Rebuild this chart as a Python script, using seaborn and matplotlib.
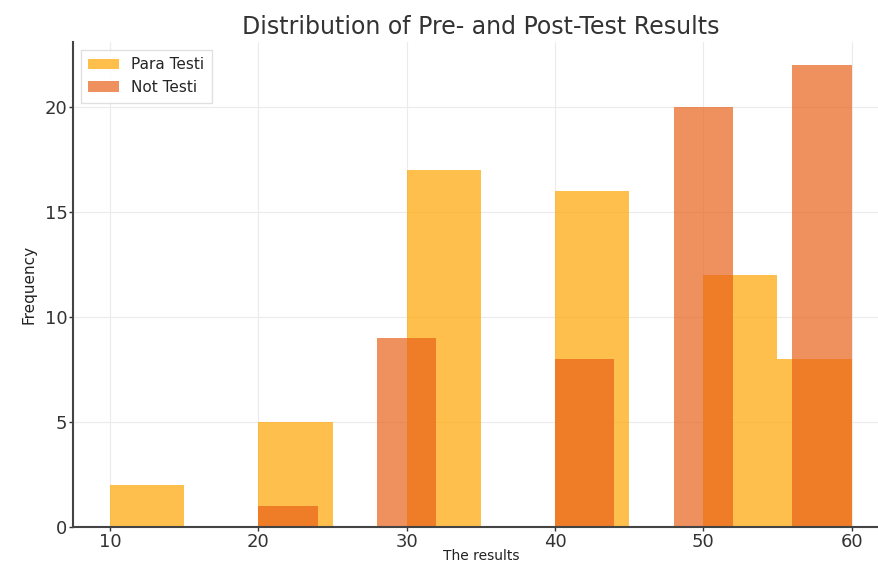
import numpy as np
import matplotlib
matplotlib.use('Agg')
import matplotlib.pyplot as plt
import seaborn as sns

# bins and counts
para_edges = [10, 15, 20, 25, 30, 35, 40, 45, 50, 55, 60]
para_counts = [2, 0, 5, 0, 17, 0, 16, 0, 12, 8]

not_edges = [20, 24, 28, 32, 36, 40, 44, 48, 52, 56, 60]
not_counts = [1, 0, 9, 0, 0, 8, 0, 20, 0, 22]

x_ticks = [10, 20, 30, 40, 50, 60]
y_ticks = [0, 5, 10, 15, 20]

PARA_COLOR = '#FFA500'
NOT_COLOR = '#E9621A'

sns.set_style('whitegrid', {'grid.color': '#ebebeb', 'axes.edgecolor': '#333333'})
plt.rcParams['font.family'] = ['DejaVu Sans']

fig = plt.figure(figsize=(8.79, 5.65), dpi=100)
ax = fig.add_axes([0.083, 0.0673, 0.928, 0.858])

para_mid = [(a + b) / 2 for a, b in zip(para_edges[:-1], para_edges[1:])]
not_mid = [(a + b) / 2 for a, b in zip(not_edges[:-1], not_edges[1:])]

sns.histplot(x=para_mid, weights=para_counts, bins=para_edges, ax=ax,
             color=PARA_COLOR, alpha=0.7, linewidth=0, label='Para Testi')
sns.histplot(x=not_mid, weights=not_counts, bins=not_edges, ax=ax,
             color=NOT_COLOR, alpha=0.7, linewidth=0, label='Not Testi')

ax.set_xlim(7.5, 62.5)
ax.set_ylim(0, 23.1)
ax.set_xticks(x_ticks)
ax.set_yticks(y_ticks)
ax.tick_params(axis='both', labelsize=13, colors='#333333', length=3, width=1,
               left=True, bottom=True, pad=1)
for side in ['top', 'right']:
    ax.spines[side].set_visible(False)
for side in ['left', 'bottom']:
    ax.spines[side].set_linewidth(1.5)
    ax.spines[side].set_color('#444444')

ax.set_title('Distribution of Pre- and Post-Test Results', fontsize=17,
             color='#333333', pad=6)
ax.set_xlabel('The results', fontsize=10, color='#222222', labelpad=-1)
ax.set_ylabel('Frequency', fontsize=11, color='#222222', labelpad=6)
ax.legend(loc='upper left', fontsize=11, frameon=True, framealpha=0.9,
          edgecolor='#dddddd', fancybox=False, borderpad=0.5)

fig.savefig('out.png', dpi=100, facecolor='white')
